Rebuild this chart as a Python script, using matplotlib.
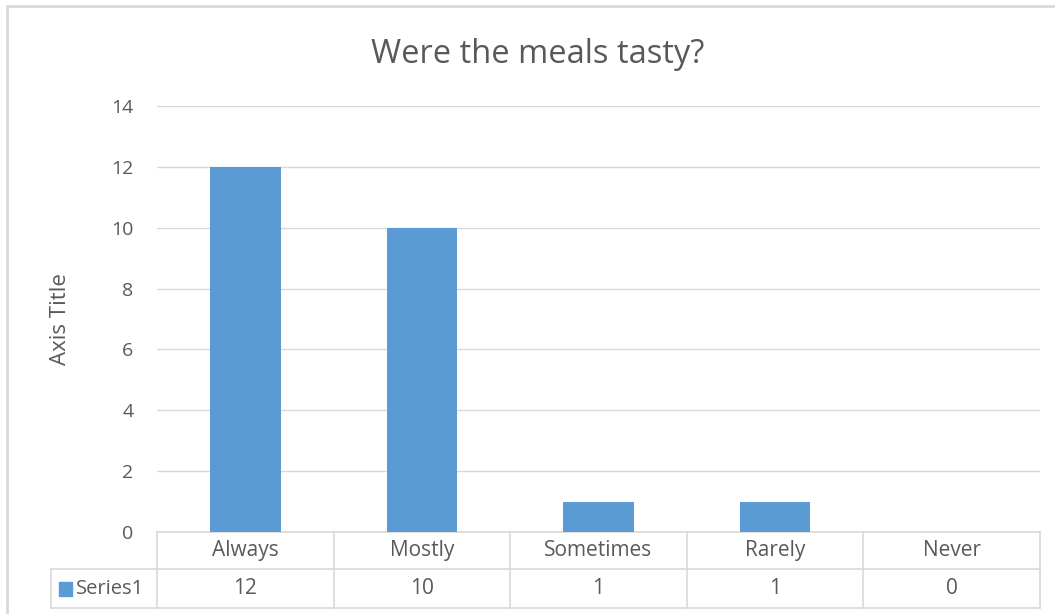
import matplotlib
matplotlib.use("Agg")
import matplotlib.pyplot as plt
from matplotlib.patches import Rectangle
from matplotlib.lines import Line2D

# chart data
categories = ["Always", "Mostly", "Sometimes", "Rarely", "Never"]
values = [12, 10, 1, 1, 0]
series_name = "Series1"
y_ticks = [0, 2, 4, 6, 8, 10, 12, 14]
title = "Were the meals tasty?"
y_label = "Axis Title"

bar_color = "#5b9bd5"
text_color = "#595959"
grid_color = "#d9d9d9"

plt.rcParams["font.family"] = ["Open Sans", "DejaVu Sans"]

W, H = 1055, 614
fig = plt.figure(figsize=(W / 100, H / 100), dpi=100)

# outer chart frame (runs off the right and bottom edges)
fig.add_artist(Rectangle((7 / W, -10 / H), (W + 10) / W, (H + 4) / H,
                         transform=fig.transFigure, fill=False,
                         edgecolor=grid_color, linewidth=2))

left, right, top, bottom = 157, 1040, 106, 532
ax = fig.add_axes([left / W, 1 - bottom / H, (right - left) / W, (bottom - top) / H])

x = list(range(len(categories)))
ax.bar(x, values, width=0.4, color=bar_color, zorder=3)
ax.set_xlim(-0.5, len(categories) - 0.5)
ax.set_ylim(0, 14)
ax.set_yticks(y_ticks)
ax.set_yticklabels([str(t) for t in y_ticks], fontsize=14, color=text_color)
ax.tick_params(axis="y", length=0, pad=17)
ax.set_xticks([])
ax.grid(axis="y", color=grid_color, linewidth=1, zorder=0)
for s in ax.spines.values():
    s.set_visible(False)

ax.set_ylabel(y_label, fontsize=16, color=text_color, labelpad=29)
fig.text(538 / W, 1 - 63 / H, title, ha="center", va="baseline",
         fontsize=23.5, color=text_color)

# data table under the plot
row1_bot, row2_bot = 569, 608
ax_h = bottom - top
ax_w = right - left
r1 = -(row1_bot - bottom) / ax_h
r2 = -(row2_bot - bottom) / ax_h
tbl_left = (51 - left) / ax_w
n = len(categories)
col_w = 1.0 / n

def hline(x0, x1, y):
    ax.add_line(Line2D([x0, x1], [y, y], transform=ax.transAxes, color=grid_color,
                       linewidth=1.2, clip_on=False))

def vline(xx, y0, y1):
    ax.add_line(Line2D([xx, xx], [y0, y1], transform=ax.transAxes, color=grid_color,
                       linewidth=1.2, clip_on=False))

hline(0, 1, 0)
hline(tbl_left, 1, r1)
hline(tbl_left, 1, r2)
vline(tbl_left, r1, r2)
for i in range(n + 1):
    vline(i * col_w, 0, r2)

for i, (c, v) in enumerate(zip(categories, values)):
    cx = (i + 0.5) * col_w
    ax.text(cx, r1 / 2, c, transform=ax.transAxes, ha="center", va="center",
            fontsize=15, color=text_color)
    ax.text(cx, (r1 + r2) / 2, str(v), transform=ax.transAxes, ha="center", va="center",
            fontsize=15, color=text_color)

# legend key + series name in the table
ax.add_patch(Rectangle(((59 - left) / ax_w, -(596 - bottom) / ax_h), 13 / ax_w, 14 / ax_h,
                       transform=ax.transAxes, color=bar_color, clip_on=False))
ax.text((76 - left) / ax_w, (r1 + r2) / 2, series_name, transform=ax.transAxes,
        ha="left", va="center", fontsize=14.5, color=text_color)

fig.savefig("out.png", dpi=100)
